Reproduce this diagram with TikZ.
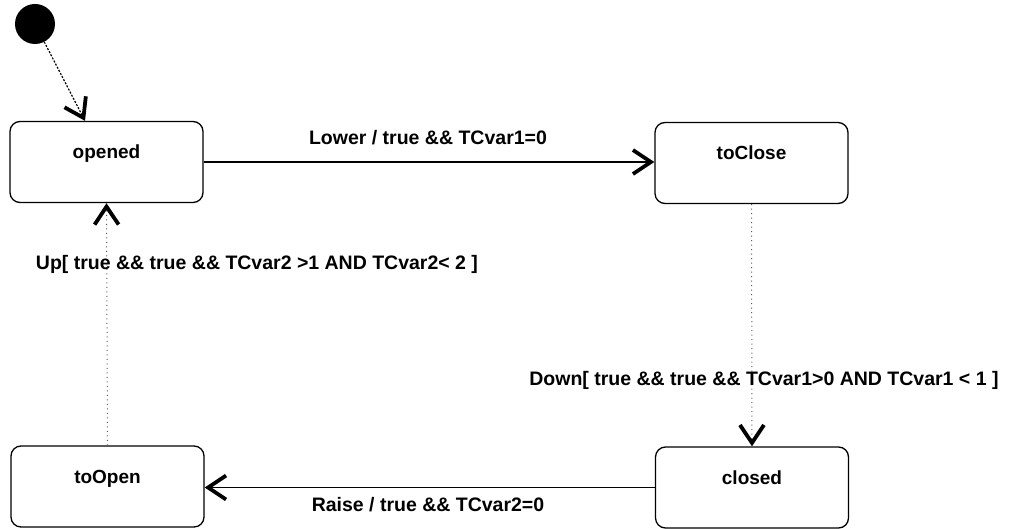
\documentclass[tikz,border=0pt]{standalone}
\usepackage{fontspec}
\setmainfont{Liberation Sans}
\usetikzlibrary{arrows.meta,calc}
\begin{document}
\begin{tikzpicture}[x=1pt,y=-1pt,
  state/.style={draw, line width=1.3pt, rounded corners=10pt, minimum width=193pt,
    inner sep=0pt, text height=37pt, text depth=44pt, font=\bfseries\fontsize{19}{22}\selectfont},
  lbl/.style={font=\bfseries\fontsize{19.5}{22}\selectfont, inner sep=0pt},
  tip/.style={-{Straight Barb[length=18pt,width=24pt,line width=3.8pt 0 0,color=black,sharp]}},
  solidtr/.style={tip, line width=1.2pt},
  dottr/.style={tip, line width=1pt, black!65, dash pattern=on 1pt off 3.5pt},
]
\useasboundingbox (0,0) rectangle (1011,529);
\node[circle, fill=black, minimum size=40pt, inner sep=0pt] (init) at (35,24) {};
\node[state] (opened) at (106.5,162) {opened};
\node[state] (toClose) at (751.5,163) {toClose};
\node[state] (toOpen) at (107.5,486.5) {toOpen};
\node[state] (closed) at (752,487.5) {closed};

\draw[tip, line width=1.2pt, dash pattern=on 2pt off 1.5pt] (init) -- ([xshift=-21.5pt]opened.north);
\draw[solidtr] (opened.east) -- (opened.east -| toClose.west);
\draw[dottr] (toClose.south) -- (closed.north);
\draw[solidtr] (closed.west) -- (closed.west -| toOpen.east);
\draw[dottr] (toOpen.north) -- (opened.south);

\node[lbl] (l1) at (428,138) {Lower / true \&\& TCvar1=0};
\node[lbl] (l2) at (764,380) {Down[ true \&\& true \&\& TCvar1>0 AND TCvar1 < 1 ]};
\node[lbl] (l3) at (428,505) {Raise / true \&\& TCvar2=0};
\node[lbl] (l4) at (257,264) {Up[ true \&\& true \&\& TCvar2 >1 AND TCvar2< 2 ]};
\end{tikzpicture}
\end{document}
